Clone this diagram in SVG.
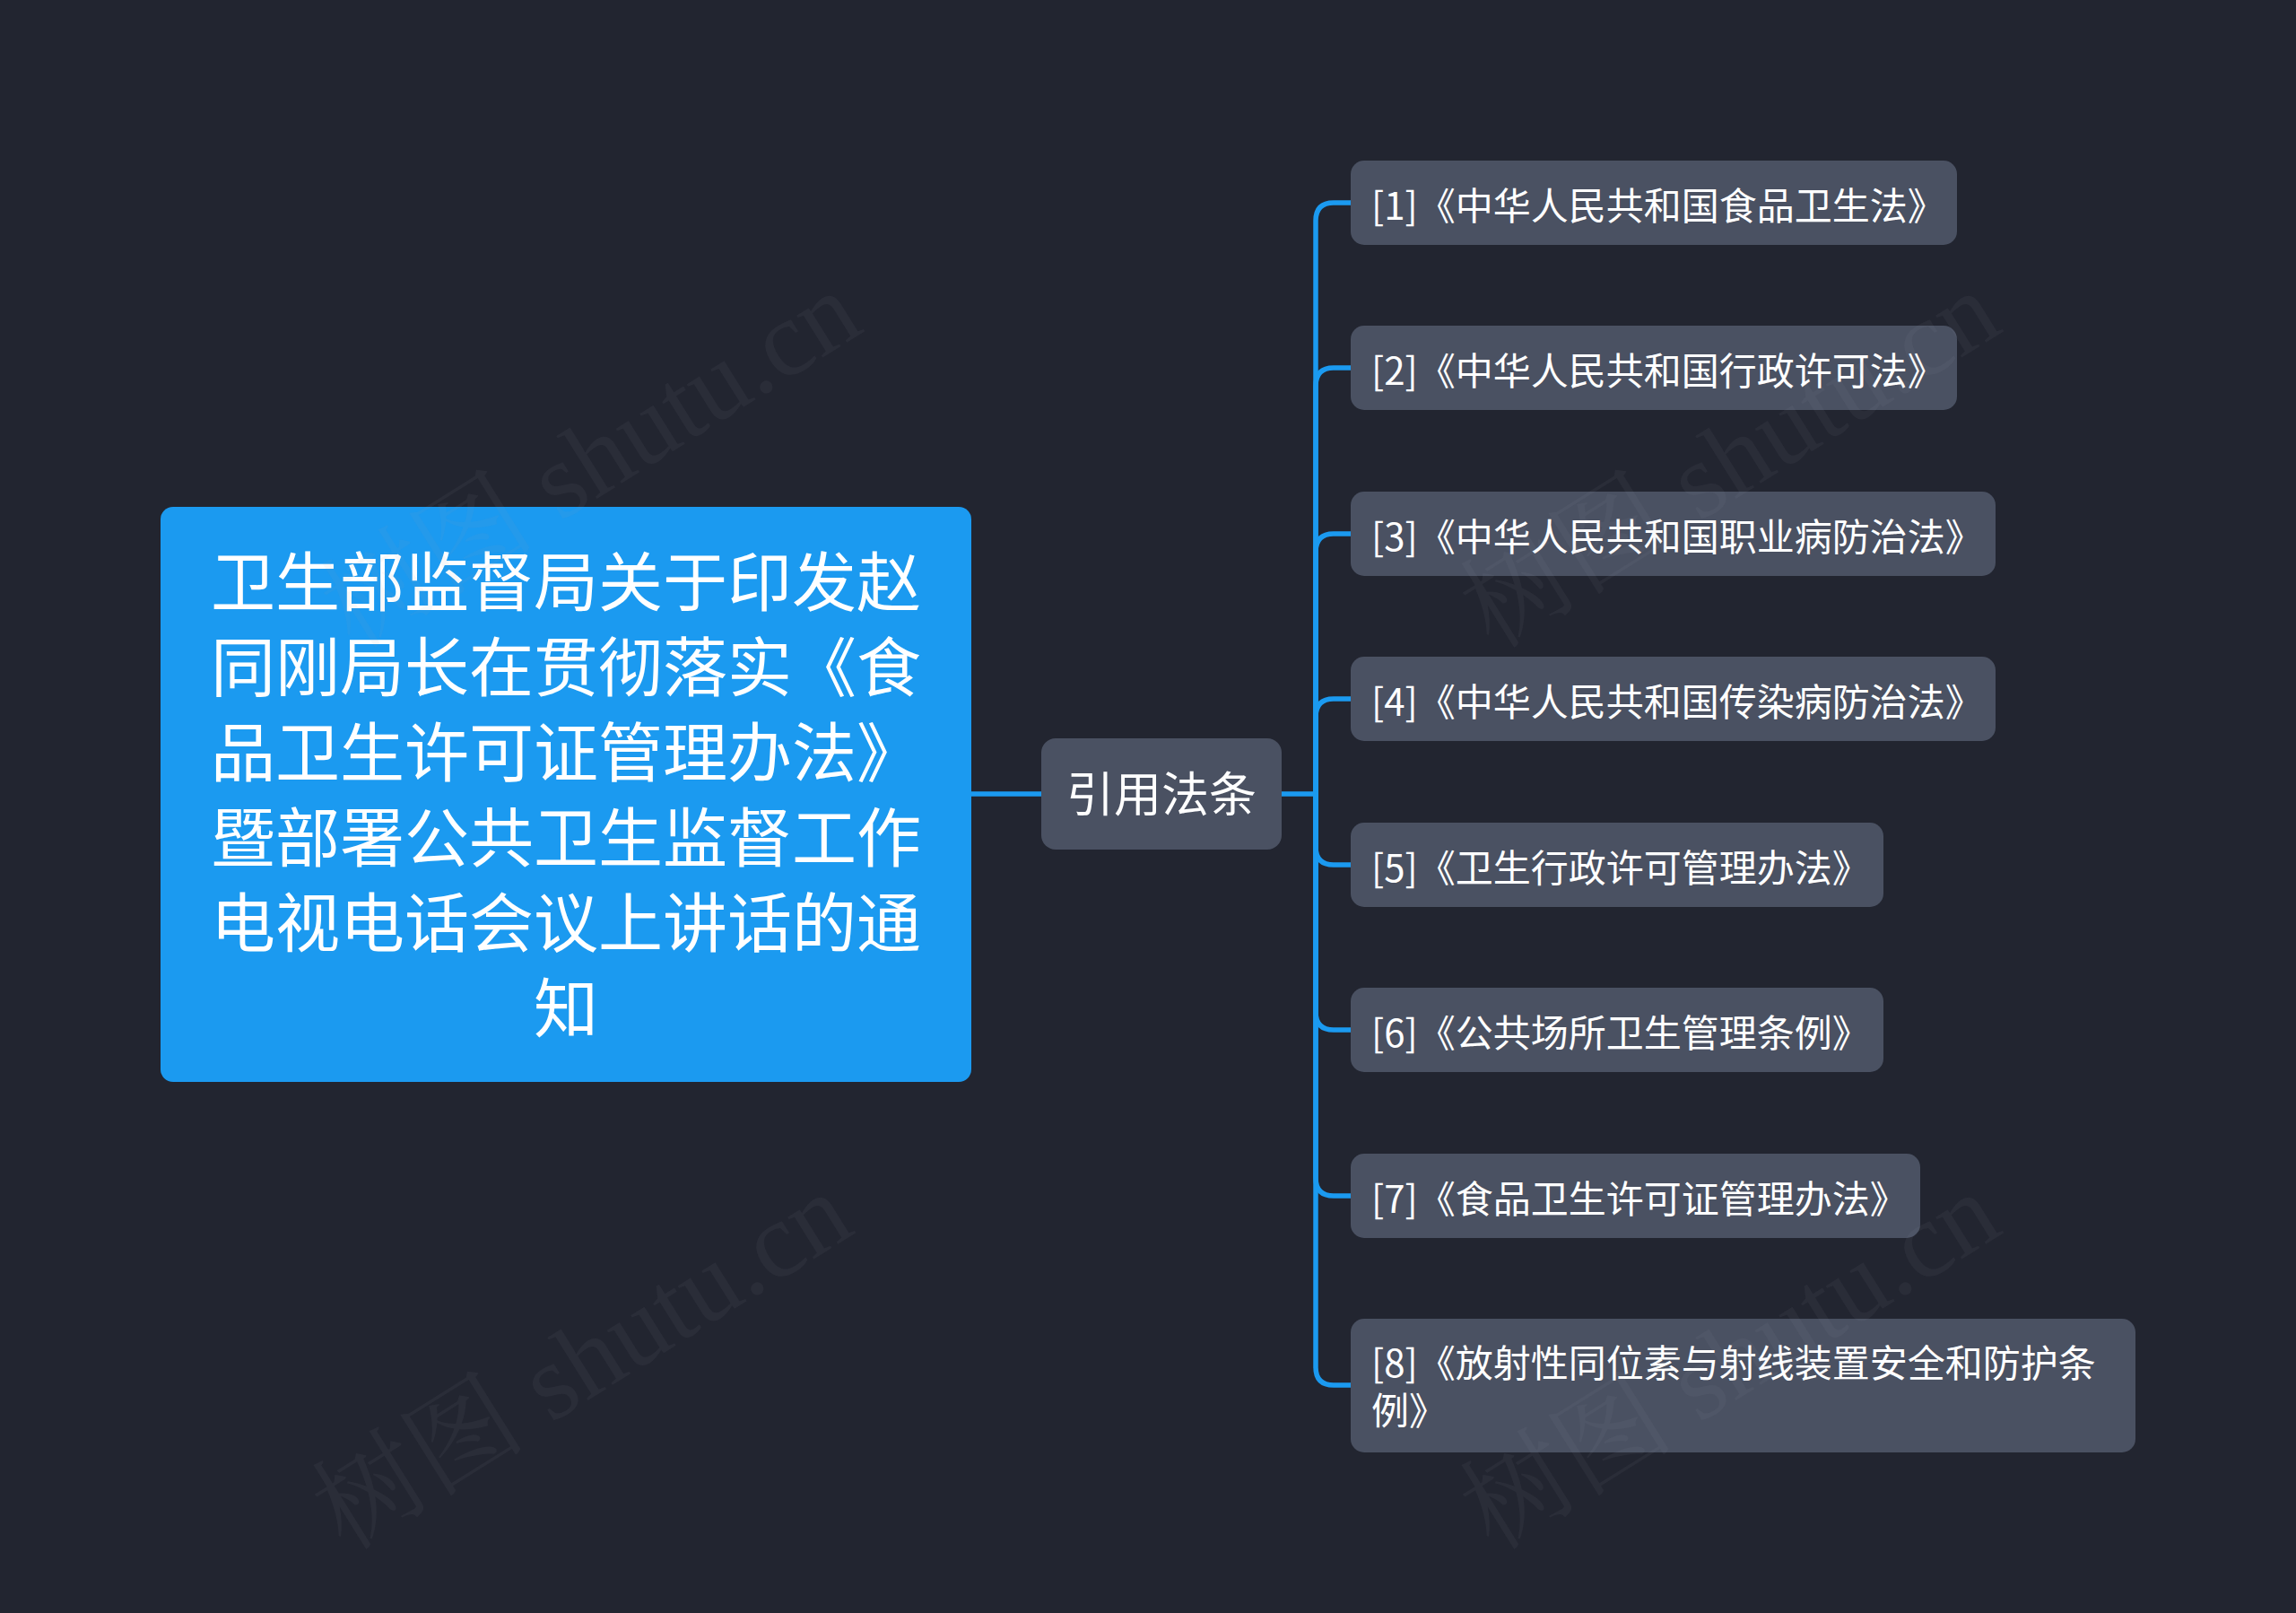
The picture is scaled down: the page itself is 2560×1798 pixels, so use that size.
<svg xmlns="http://www.w3.org/2000/svg" width="2560" height="1798" viewBox="0 0 2560 1798">
<style>
.bg{fill:#222530}
.root{fill:#1b9af0}
.sub{fill:#4a5162}
.t{font-family:"Noto Sans CJK SC","Microsoft YaHei",sans-serif;fill:#ffffff}
.rt{font-size:72px;text-anchor:middle}
.mt{font-size:53px;text-anchor:middle}
.ct{font-size:42px}
.line{fill:none;stroke:#1b9af0;stroke-width:5.5;stroke-linecap:round}
.wm{font-family:"Liberation Serif","Noto Serif CJK SC","Noto Sans CJK SC",serif;font-size:120px;fill:#9aa0b0;fill-opacity:0.07}
</style>
<rect class="bg" x="0" y="0" width="2560" height="1798"/>
<g id="connectors">
<path class="line" d="M1083 885 H1161"/>
<path class="line" d="M1429 885 H1467"/>
<path class="line" d="M1467 885 V246 Q1467 226 1487 226 H1506"/>
<path class="line" d="M1467 885 V430 Q1467 410 1487 410 H1506"/>
<path class="line" d="M1467 885 V615 Q1467 595 1487 595 H1506"/>
<path class="line" d="M1467 885 V799 Q1467 779 1487 779 H1506"/>
<path class="line" d="M1467 885 V944 Q1467 964 1487 964 H1506"/>
<path class="line" d="M1467 885 V1128 Q1467 1148 1487 1148 H1506"/>
<path class="line" d="M1467 885 V1313 Q1467 1333 1487 1333 H1506"/>
<path class="line" d="M1467 885 V1524 Q1467 1544 1487 1544 H1506"/>
</g>
<g id="root">
<rect class="root" x="179" y="565" width="904" height="641" rx="14"/>
<text class="t rt" x="631" y="675">卫生部监督局关于印发赵</text>
<text class="t rt" x="631" y="770">同刚局长在贯彻落实《食</text>
<text class="t rt" x="631" y="865">品卫生许可证管理办法》</text>
<text class="t rt" x="631" y="960">暨部署公共卫生监督工作</text>
<text class="t rt" x="631" y="1055">电视电话会议上讲话的通</text>
<text class="t rt" x="631" y="1150">知</text>
</g>
<g id="n-yinyong">
<rect class="sub" x="1161" y="823" width="268" height="124" rx="16"/>
<text class="t mt" x="1295" y="905">引用法条</text>
</g>
<g id="n1">
<rect class="sub" x="1506" y="179" width="676" height="94" rx="15"/>
<text class="t ct" x="1529" y="245">[1]《中华人民共和国食品卫生法》</text>
</g>
<g id="n2">
<rect class="sub" x="1506" y="363" width="676" height="94" rx="15"/>
<text class="t ct" x="1529" y="429">[2]《中华人民共和国行政许可法》</text>
</g>
<g id="n3">
<rect class="sub" x="1506" y="548" width="719" height="94" rx="15"/>
<text class="t ct" x="1529" y="614">[3]《中华人民共和国职业病防治法》</text>
</g>
<g id="n4">
<rect class="sub" x="1506" y="732" width="719" height="94" rx="15"/>
<text class="t ct" x="1529" y="798">[4]《中华人民共和国传染病防治法》</text>
</g>
<g id="n5">
<rect class="sub" x="1506" y="917" width="594" height="94" rx="15"/>
<text class="t ct" x="1529" y="983">[5]《卫生行政许可管理办法》</text>
</g>
<g id="n6">
<rect class="sub" x="1506" y="1101" width="594" height="94" rx="15"/>
<text class="t ct" x="1529" y="1167">[6]《公共场所卫生管理条例》</text>
</g>
<g id="n7">
<rect class="sub" x="1506" y="1286" width="635" height="94" rx="15"/>
<text class="t ct" x="1529" y="1352">[7]《食品卫生许可证管理办法》</text>
</g>
<g id="n8">
<rect class="sub" x="1506" y="1470" width="875" height="149" rx="15"/>
<text class="t ct" x="1529" y="1535">[8]《放射性同位素与射线装置安全和防护条</text>
<text class="t ct" x="1529" y="1588">例》</text>
</g>
<g id="watermarks">
<text class="wm" transform="translate(395 725) rotate(-32)">树图 shutu.cn</text>
<text class="wm" transform="translate(385 1730) rotate(-32)">树图 shutu.cn</text>
<text class="wm" transform="translate(1665 725) rotate(-32)">树图 shutu.cn</text>
<text class="wm" transform="translate(1665 1730) rotate(-32)">树图 shutu.cn</text>
</g>
</svg>
